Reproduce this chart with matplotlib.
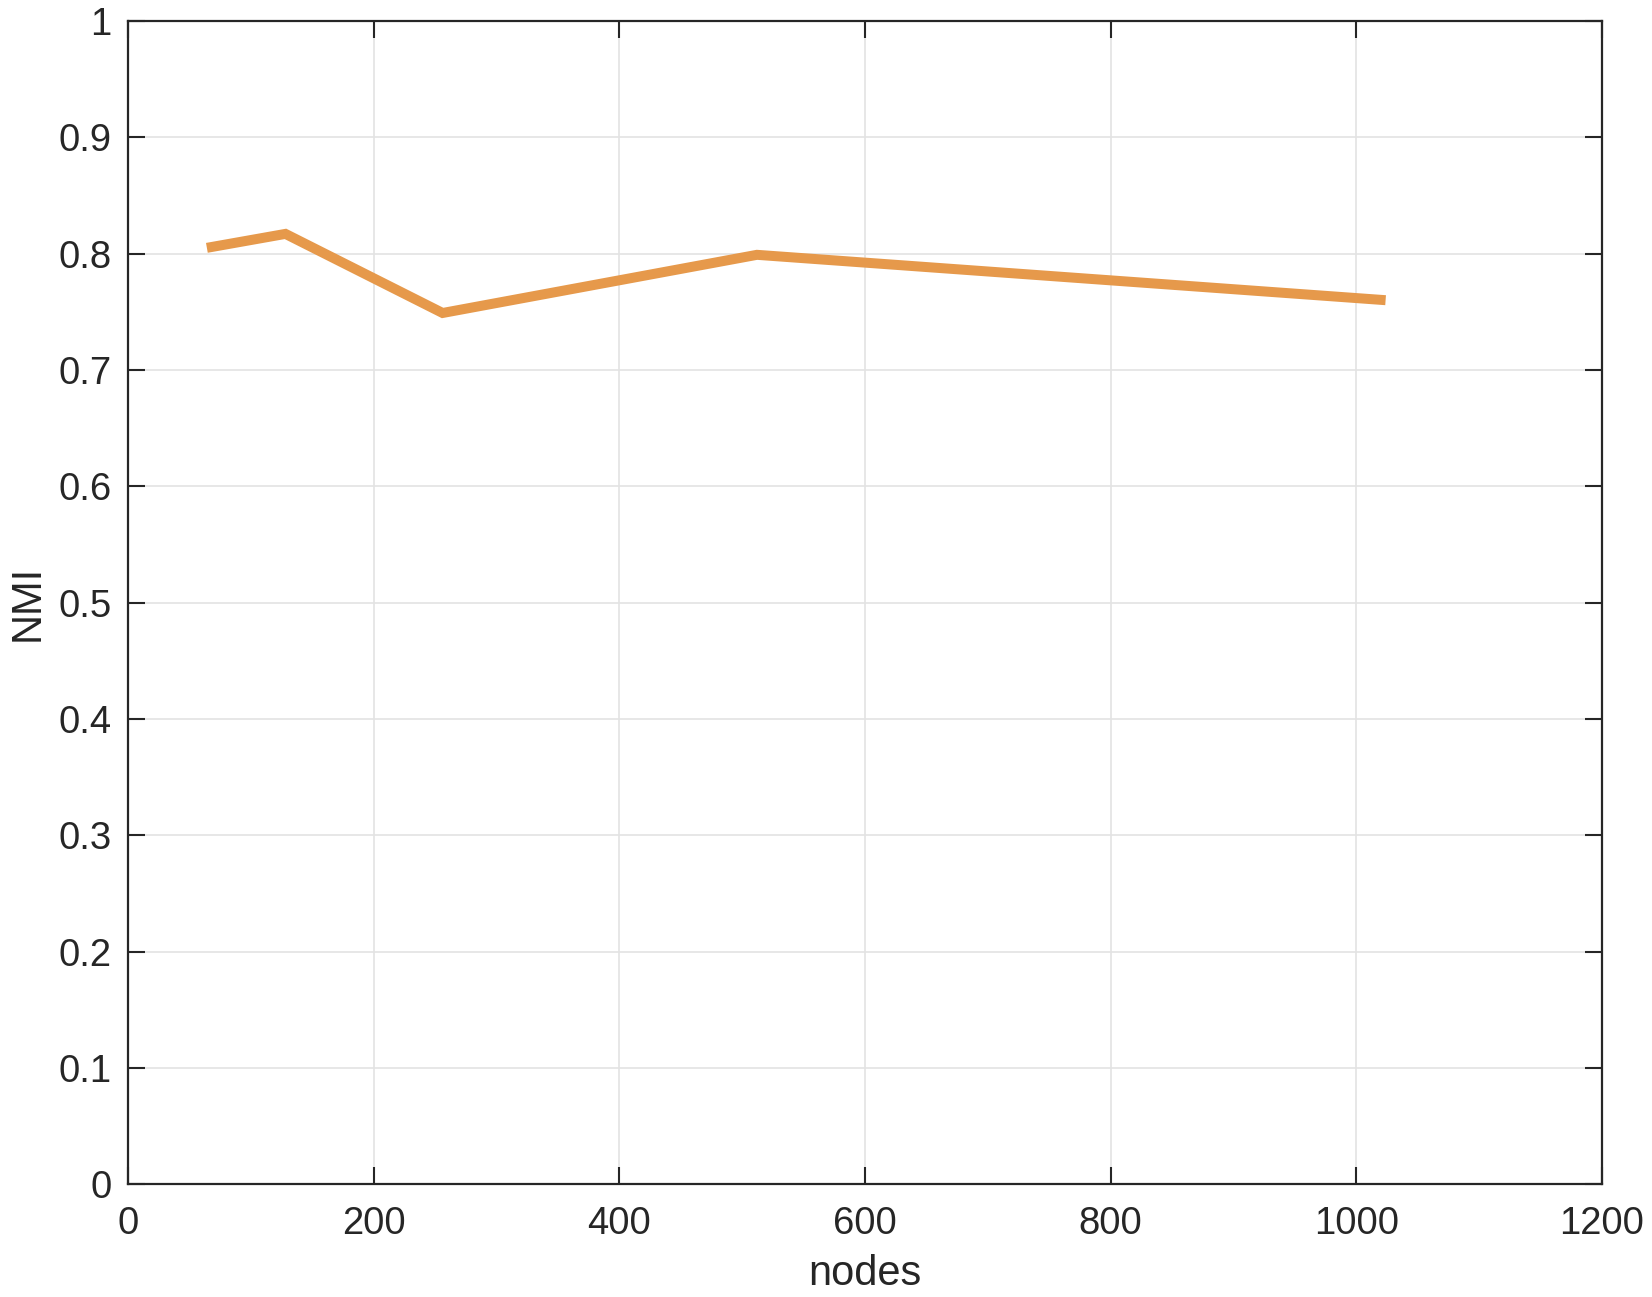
import matplotlib
matplotlib.use("Agg")
import matplotlib.pyplot as plt

nodes = [64, 128, 256, 512, 1024]
nmi = [0.805, 0.817, 0.749, 0.799, 0.760]
xticks = [0, 200, 400, 600, 800, 1000, 1200]
yticks = [0, 0.1, 0.2, 0.3, 0.4, 0.5, 0.6, 0.7, 0.8, 0.9, 1]
ytick_labels = ["0", "0.1", "0.2", "0.3", "0.4", "0.5", "0.6", "0.7", "0.8", "0.9", "1"]

plt.rcParams['font.family'] = ['Liberation Sans', 'DejaVu Sans']

W, H, DPI = 1652, 1297, 100
fig = plt.figure(figsize=(W / DPI, H / DPI), dpi=DPI)
L, R, T, B = 128.3, 1601.7, 21, 1184.3
ax = fig.add_axes([L / W, 1 - B / H, (R - L) / W, (B - T) / H])

ax.plot(nodes, nmi, color='#E6994B', linewidth=7.2, solid_capstyle='butt',
        solid_joinstyle='miter', zorder=3)

ax.set_xlim(0, 1200)
ax.set_ylim(0, 1)
ax.set_xticks(xticks)
ax.set_xticklabels([str(v) for v in xticks])
ax.set_yticks(yticks)
ax.set_yticklabels(ytick_labels)

ax.grid(True, color='#E3E3E3', linewidth=1.2, zorder=0)
ax.set_axisbelow(True)

for s in ax.spines.values():
    s.set_color('#262626')
    s.set_linewidth(1.6)

ax.tick_params(axis='both', direction='in', length=12, width=1.5, color='#262626',
               labelsize=27.5, labelcolor='#262626', top=True, right=True)
ax.tick_params(axis='x', pad=15.5)
ax.tick_params(axis='y', pad=12)

ax.set_xlabel('nodes', fontsize=30, color='#262626', labelpad=9)
ax.set_ylabel('NMI', fontsize=30, color='#262626', labelpad=8)

fig.savefig('out.png', dpi=DPI, facecolor='white')
